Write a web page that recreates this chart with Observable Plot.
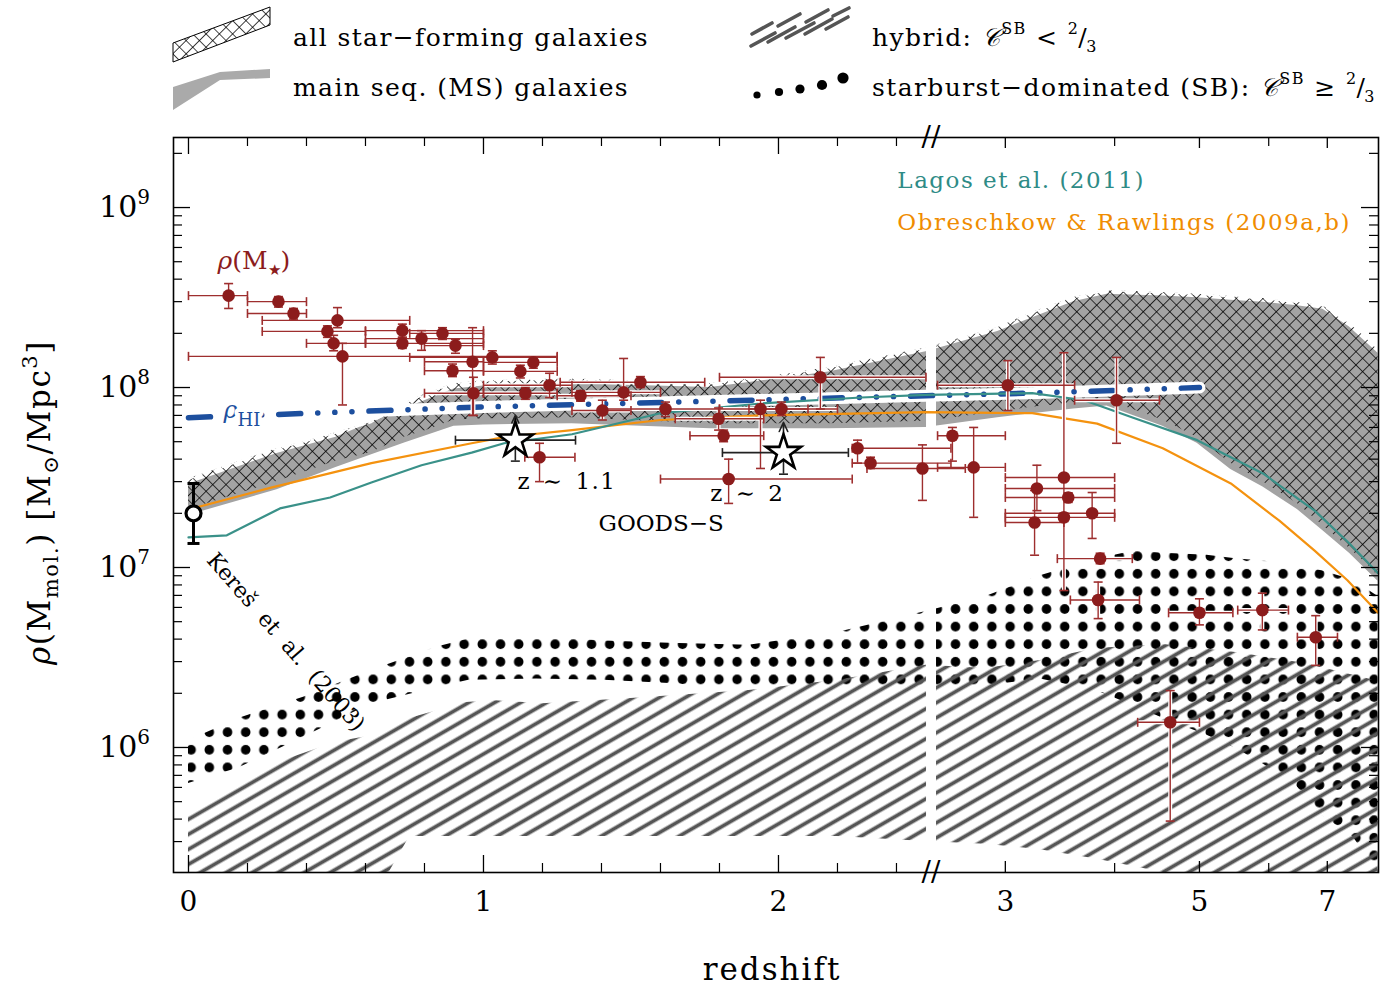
<!DOCTYPE html>
<html>
<head>
<meta charset="utf-8">
<script src="https://cdn.jsdelivr.net/npm/d3@7"></script>
<script src="https://cdn.jsdelivr.net/npm/@observablehq/plot@0.6"></script>
<style>
  body { margin: 0; background: #fff; }
  #wrap { position: relative; width: 1382px; height: 990px; font-family: "DejaVu Serif", serif; }
  #legend { position: absolute; left: 0; top: 0; }
  #chart { position: absolute; left: 0; top: 125px; }
</style>
</head>
<body>
<div id="wrap">
<svg id="legend" width="1382" height="125" font-family="DejaVu Serif, serif" font-size="25" letter-spacing="1.4">
  <defs>
    <pattern id="xhatch" patternUnits="userSpaceOnUse" width="9.4" height="9.4" patternTransform="rotate(45)">
      <path d="M0,0H9.4M0,0V9.4" stroke="#000" stroke-width="1.5" fill="none"/>
    </pattern>
    <pattern id="hatch" patternUnits="userSpaceOnUse" width="13" height="13" patternTransform="rotate(-30)">
      <line x1="0" y1="6.5" x2="13" y2="6.5" stroke="#555" stroke-width="3.8"/>
    </pattern>
    <pattern id="dots" patternUnits="userSpaceOnUse" width="18.2" height="17.6">
      <circle cx="9.1" cy="8.8" r="4.8" fill="#000"/>
    </pattern>
  </defs>
  <!-- swatches -->
  <polygon points="173,43 270,7 270,25 173,62" fill="url(#xhatch)" stroke="#000" stroke-width="1"/>
  <polygon points="173,87 220,72 270,69 270,78 220,80 173,110" fill="#aaa"/>
  <g stroke="#555" stroke-width="3.6" stroke-linecap="round">
    <line x1="751" y1="46" x2="775" y2="33"/>
    <line x1="768" y1="42" x2="795" y2="27"/>
    <line x1="752" y1="34" x2="772" y2="23"/>
    <line x1="786" y1="38" x2="814" y2="23"/>
    <line x1="778" y1="26" x2="800" y2="14"/>
    <line x1="805" y1="34" x2="832" y2="19"/>
    <line x1="806" y1="22" x2="828" y2="10"/>
    <line x1="826" y1="29" x2="848" y2="17"/>
    <line x1="833" y1="16" x2="849" y2="8"/>
  </g>
  <g fill="#000">
    <circle cx="757" cy="95" r="3.6"/>
    <circle cx="779" cy="92" r="4.1"/>
    <circle cx="800" cy="89" r="4.6"/>
    <circle cx="822" cy="85" r="5.1"/>
    <circle cx="843" cy="78" r="5.6"/>
  </g>
  <text x="293" y="46">all star−forming galaxies</text>
  <text x="293" y="96">main seq. (MS) galaxies</text>
  <text x="872" y="46">hybrid: <tspan font-style="italic">𝒞</tspan><tspan font-size="16" dy="-12">SB</tspan><tspan dy="12"> &lt; </tspan><tspan font-size="16" dy="-12">2</tspan><tspan dy="12" dx="-1">/</tspan><tspan font-size="16" dy="6" dx="-2">3</tspan></text>
  <text x="872" y="96">starburst−dominated (SB): <tspan font-style="italic">𝒞</tspan><tspan font-size="16" dy="-12">SB</tspan><tspan dy="12"> ≥ </tspan><tspan font-size="16" dy="-12">2</tspan><tspan dy="12" dx="-1">/</tspan><tspan font-size="16" dy="6" dx="-2">3</tspan></text>
</svg>
<div id="chart"></div>
</div>
<script>
// Redshift axis: linear up to the break at z = 2.5, logarithmic in z beyond it.
const Z_BREAK = 2.5, U_AT_3 = 2.769, U_PER_DEX = 2.966;
const zu = z => z <= Z_BREAK ? z : U_AT_3 + Math.log10(z / 3) * U_PER_DEX;
const U_GAP = (Z_BREAK + zu(2.5001)) / 2;

// All star-forming galaxies (cross-hatched band)
const sfZ  = [0, 0.28, 0.45, 0.5, 0.62, 0.73, 0.81, 0.9, 1.0, 1.3, 1.77, 2.05, 2.17, 2.5, 2.94, 3.2, 3.59, 3.92, 4.54, 4.97, 5.43, 5.91, 6.47, 6.92, 7.42, 7.7, 8.0];
const sfHi = [3.1e7, 4.47e7, 5.3e7, 5.6e7, 6.4e7, 8.15e7, 9.3e7, 1.05e8, 1.09e8, 1.12e8, 1.05e8, 1.2e8, 1.29e8, 1.66e8, 2.15e8, 2.58e8, 3.16e8, 3.46e8, 3.37e8, 3.3e8, 3.2e8, 3.12e8, 2.97e8, 2.85e8, 2.27e8, 1.94e8, 1.61e8];
const sfLo = [2.1e7, 2.93e7, 3.65e7, 3.9e7, 4.35e7, 5.3e7, 5.8e7, 6.6e7, 6.7e7, 6.8e7, 6.3e7, 6.3e7, 6.3e7, 6.5e7, 7.3e7, 7.74e7, 8.2e7, 8.5e7, 6.6e7, 5.3e7, 3.8e7, 3.0e7, 2.27e7, 1.71e7, 1.28e7, 1.09e7, 9.0e6];

// Main-sequence galaxies (grey band)
const msZ  = [0, 0.3, 0.5, 0.73, 0.9, 1.0, 1.3, 1.77, 2.17, 2.5, 2.94, 3.59, 3.92, 4.54, 4.97, 5.43, 5.91, 6.47, 6.92, 7.42, 8.0];
const msHi = [2.9e7, 4.3e7, 5.3e7, 7.6e7, 9.8e7, 1.02e8, 1.05e8, 1.0e8, 1.22e8, 1.58e8, 2.05e8, 3.0e8, 3.3e8, 3.22e8, 3.15e8, 3.05e8, 2.98e8, 2.85e8, 2.72e8, 2.17e8, 1.55e8];
const msLo = [1.95e7, 2.7e7, 3.6e7, 4.9e7, 6.1e7, 6.2e7, 6.3e7, 5.9e7, 5.9e7, 6.0e7, 6.8e7, 7.6e7, 7.9e7, 6.1e7, 4.9e7, 3.5e7, 2.8e7, 2.1e7, 1.6e7, 1.2e7, 8.4e6];

// Starburst-dominated (dotted band)
const sbZ  = [0, 0.17, 0.39, 0.62, 0.84, 0.95, 1.18, 1.41, 1.63, 1.9, 2.2, 2.5, 2.85, 3.29, 3.81, 4.2, 4.55, 5.1, 5.5, 6.1, 6.4, 6.9, 7.5, 8.0];
const sbHi = [1.09e6, 1.45e6, 1.9e6, 2.68e6, 3.6e6, 4.0e6, 4.1e6, 3.9e6, 3.8e6, 3.7e6, 4.35e6, 5.7e6, 6.9e6, 9.0e6, 1.11e7, 1.23e7, 1.2e7, 1.17e7, 1.12e7, 1.07e7, 1.02e7, 9.6e6, 8.5e6, 6.9e6];
const sbLo = [6.3e5, 7.7e5, 1.14e6, 1.75e6, 2.15e6, 2.36e6, 2.4e6, 2.36e6, 2.27e6, 2.1e6, 2.1e6, 2.2e6, 2.2e6, 2.4e6, 2.07e6, 1.71e6, 1.45e6, 1.17e6, 9.9e5, 7.4e5, 6.4e5, 4.2e5, 3.16e5, 2.02e5];

// Hybrid (hatched band)
const hybZ  = [0, 0.12, 0.27, 0.5, 0.63, 0.68, 0.75, 0.94, 1.04, 1.2, 1.5, 1.9, 2.2, 2.5, 2.85, 3.29, 3.81, 4.55, 5.5, 6.6, 8.0];
const hybHi = [4.3e5, 5.4e5, 7.9e5, 1.07e6, 1.17e6, 1.3e6, 1.45e6, 1.78e6, 1.82e6, 1.75e6, 1.87e6, 2.07e6, 2.36e6, 2.86e6, 2.75e6, 3.04e6, 3.55e6, 3.73e6, 3.37e6, 2.93e6, 2.33e6];
const hybLo = [2.02e5, 2.02e5, 2.02e5, 2.02e5, 2.02e5, 2.02e5, 3.2e5, 3.2e5, 3.2e5, 3.2e5, 3.2e5, 3.2e5, 3.2e5, 3.0e5, 2.9e5, 2.7e5, 2.4e5, 2.02e5, 2.02e5, 2.02e5, 2.02e5];

// Model predictions
const lagosZ = [0, 0.13, 0.31, 0.48, 0.62, 0.79, 0.96, 1.07, 1.3, 1.6, 1.94, 2.28, 2.5, 3.22, 3.69, 4.2, 4.97, 5.91, 6.77, 7.42, 8.0];
const lagosV = [1.47e7, 1.51e7, 2.13e7, 2.45e7, 2.97e7, 3.7e7, 4.35e7, 4.9e7, 5.5e7, 7.2e7, 8.15e7, 8.8e7, 9.1e7, 9.3e7, 8.5e7, 6.8e7, 5.1e7, 3.33e7, 2.07e7, 1.36e7, 9.3e6];
const obrZ = [0, 0.28, 0.62, 0.96, 1.07, 1.3, 1.6, 1.94, 2.5, 3.22, 3.82, 4.54, 5.43, 6.17, 6.77, 7.38, 8.0];
const obrV = [2.1e7, 2.78e7, 3.8e7, 4.9e7, 5.3e7, 5.8e7, 6.6e7, 7.0e7, 7.3e7, 7.2e7, 6.3e7, 4.6e7, 2.93e7, 1.82e7, 1.24e7, 8.5e6, 5.6e6];

// Atomic gas density
const hiZ = [0, 1.0, 2.5, 3.2, 5.0];
const hiV = [6.8e7, 7.8e7, 9.0e7, 9.3e7, 1.0e8];

// Stellar mass density: [z, rho, zLow, zHigh, rhoLow, rhoHigh]
const stellarMass = [
  [0.136, 3.24e8, 0.0, 0.2, 2.75e8, 3.78e8],
  [0.305, 3.0e8, 0.2, 0.4, 2.8e8, 3.2e8],
  [0.356, 2.58e8, 0.2, 0.4, 2.4e8, 2.75e8],
  [0.505, 2.36e8, 0.25, 0.75, 2.15e8, 2.78e8],
  [0.471, 2.05e8, 0.25, 0.6, 1.9e8, 2.2e8],
  [0.492, 1.76e8, 0.4, 0.6, 1.6e8, 1.95e8],
  [0.522, 1.49e8, 0.0, 1.25, 8.0e7, 1.76e8],
  [0.725, 2.07e8, 0.6, 1.0, 1.9e8, 2.25e8],
  [0.725, 1.76e8, 0.6, 1.0, 1.65e8, 1.9e8],
  [0.79, 1.87e8, 0.6, 1.0, 1.61e8, 2.07e8],
  [0.861, 2.0e8, 0.75, 1.0, 1.85e8, 2.15e8],
  [0.905, 1.71e8, 0.8, 1.0, 1.55e8, 1.85e8],
  [0.963, 1.39e8, 0.8, 1.0, 7.0e7, 2.15e8],
  [1.03, 1.47e8, 0.75, 1.25, 1.35e8, 1.6e8],
  [0.895, 1.24e8, 0.8, 1.0, 1.15e8, 1.35e8],
  [1.125, 1.23e8, 1.0, 1.25, 1.13e8, 1.33e8],
  [1.169, 1.38e8, 1.0, 1.25, 1.28e8, 1.47e8],
  [1.224, 1.03e8, 1.0, 1.3, 8.8e7, 1.2e8],
  [1.142, 9.3e7, 1.0, 1.25, 8.6e7, 1.0e8],
  [0.966, 9.3e7, 0.8, 1.0, 7.0e7, 1.14e8],
  [1.19, 4.1e7, 1.14, 1.31, 3.0e7, 4.9e7],
  [1.532, 1.07e8, 1.26, 1.75, 1.0e8, 1.15e8],
  [1.475, 9.4e7, 1.3, 1.6, 8.5e7, 1.45e8],
  [1.329, 9.0e7, 1.25, 1.5, 8.4e7, 9.6e7],
  [1.403, 7.45e7, 1.3, 1.5, 6.6e7, 8.5e7],
  [1.617, 7.6e7, 1.4, 1.8, 6.9e7, 8.3e7],
  [1.797, 6.7e7, 1.65, 1.95, 5.8e7, 7.7e7],
  [1.814, 5.4e7, 1.7, 1.95, 5.0e7, 5.8e7],
  [1.939, 7.6e7, 1.8, 2.2, 3.55e7, 8.5e7],
  [2.01, 7.6e7, 1.9, 2.1, 7.0e7, 8.3e7],
  [2.142, 1.14e8, 1.8, 2.5, 7.6e7, 1.47e8],
  [1.831, 3.1e7, 1.6, 2.25, 2.27e7, 4.0e7],
  [2.268, 4.6e7, 2.25, 2.6, 3.8e7, 5.1e7],
  [2.312, 3.8e7, 2.25, 2.6, 3.55e7, 4.1e7],
  [2.488, 3.55e7, 2.3, 2.7, 2.36e7, 4.8e7],
  [2.61, 5.4e7, 2.51, 3.0, 3.9e7, 6.0e7],
  [2.76, 3.6e7, 2.51, 3.0, 1.9e7, 6.0e7],
  [3.02, 1.03e8, 2.51, 3.6, 7.45e7, 1.41e8],
  [4.02, 8.5e7, 3.6, 4.5, 4.9e7, 1.47e8],
  [3.5, 3.16e7, 3.0, 4.0, 7.45e6, 1.56e8],
  [3.54, 2.45e7, 3.0, 4.0, 2.3e7, 2.6e7],
  [3.5, 1.9e7, 3.0, 4.0, 1.8e7, 2.0e7],
  [3.26, 2.75e7, 3.0, 4.0, 2.07e7, 3.7e7],
  [3.77, 2.0e7, 3.0, 4.0, 1.45e7, 2.61e7],
  [3.24, 1.78e7, 3.0, 3.5, 1.17e7, 2.68e7],
  [3.85, 1.12e7, 3.44, 4.19, 1.05e7, 1.2e7],
  [3.83, 6.6e6, 3.56, 4.27, 5.2e6, 8.3e6],
  [5.0, 5.6e6, 4.61, 5.46, 4.8e6, 6.7e6],
  [5.9, 5.8e6, 5.53, 6.32, 4.5e6, 7.2e6],
  [6.79, 4.1e6, 6.47, 7.19, 2.86e6, 5.4e6],
  [4.63, 1.38e6, 4.25, 5.0, 3.9e5, 2.07e6]
];

// GOODS-S lower limits: [z, rho, zLow, zHigh, rhoLow, rhoArrowTip]
const goodsS = [
  [1.108, 5.1e7, 0.905, 1.312, 3.9e7, 7.0e7],
  [2.017, 4.35e7, 1.81, 2.237, 3.3e7, 6.4e7]
];

// Local value (Keres et al. 2003): [z, rho, rhoLow, rhoHigh]
const keres = [[0.017, 2.0e7, 1.36e7, 2.93e7]];

// Axis ticks
const xMajor = [0, 1, 2];
const xMid = [3, 5, 7];
const xMinor = [0.2, 0.4, 0.6, 0.8, 1.2, 1.4, 1.6, 1.8, 2.2, 2.4, 4, 6];
const xLabels = [0, 1, 2, 3, 5, 7];
const yMajor = [1e6, 1e7, 1e8, 1e9];
const yMinor = [5, 6, 7, 8].flatMap(k => [2, 3, 4, 5, 6, 7, 8, 9].map(m => m * 10 ** k)).filter(v => v > 2.02e5 && v < 2.45e9)
  .concat([2e9]);

const band = (zs, lo, hi) => zs.map((z, i) => ({u: zu(z), lo: lo[i], hi: hi[i]}));
const curve = (zs, vs) => zs.map((z, i) => ({u: zu(z), v: vs[i]}));

const sf = band(sfZ, sfLo, sfHi);
const ms = band(msZ, msLo, msHi);
const sb = band(sbZ, sbLo, sbHi);
const hyb = band(hybZ, hybLo, hybHi);
const lagos = curve(lagosZ, lagosV);
const obr = curve(obrZ, obrV);
const rhoHI = curve(hiZ, hiV);

const pts = stellarMass.map(([z, v, zl, zh, vl, vh]) => ({u: zu(z), v, ul: zu(zl), uh: zu(zh), vl, vh}));
const stars = goodsS.map(([z, v, zl, zh, vl, vt]) => ({u: zu(z), v, ul: zu(zl), uh: zu(zh), vl, vt}));
const kr = keres.map(([z, v, vl, vh]) => ({u: zu(z), v, vl, vh}));

const yCaps = pts.flatMap(d => [{u: d.u, v: d.vl}, {u: d.u, v: d.vh}]);
const xCaps = pts.flatMap(d => [{u: d.ul, v: d.v}, {u: d.uh, v: d.v}]);

const capH = {draw(ctx, size) { const w = Math.sqrt(size / Math.PI); ctx.moveTo(-w, 0); ctx.lineTo(w, 0); }};
const capV = {draw(ctx, size) { const h = Math.sqrt(size / Math.PI); ctx.moveTo(0, -h); ctx.lineTo(0, h); }};

const RED = "#8c1c1c", RED_BAR = "#9e2e2e";
const TEAL = "#3a9189", ORANGE = "#f4920f", BLUE = "#1d4f9e";
const W = 1382, H = 865, ML = 173, MR = 4, MT = 12, MB = 118;
const PW = W - ML - MR, PH = H - MT - MB;

const plot = Plot.plot({
  width: W, height: H,
  marginTop: MT, marginBottom: MB, marginLeft: ML, marginRight: MR,
  style: {fontFamily: '"DejaVu Serif", serif', fontSize: "24px", background: "white", color: "black", overflow: "visible"},
  x: {type: "linear", domain: [-0.0508, 4.034], axis: null},
  y: {type: "log", domain: [2.02e5, 2.45e9], axis: null},
  marks: [
    // bands
    Plot.areaY(ms, {x: "u", y1: "lo", y2: "hi", fill: "#a3a3a3"}),
    Plot.areaY(sf, {x: "u", y1: "lo", y2: "hi", fill: "url(#xhatch)"}),
    Plot.line(sf, {x: "u", y: "hi", stroke: "white", strokeWidth: 1.6, strokeDasharray: "5,4"}),
    Plot.areaY(sb, {x: "u", y1: "lo", y2: "hi", fill: "url(#dots)"}),
    Plot.areaY(hyb, {x: "u", y1: "lo", y2: "hi", fill: "url(#hatch)"}),
    // axis break gap
    Plot.ruleX([U_GAP], {x: d => d, stroke: "white", strokeWidth: 10}),
    // atomic gas
    Plot.line(rhoHI, {x: "u", y: "v", stroke: "white", strokeWidth: 12}),
    Plot.line(rhoHI, {x: "u", y: "v", stroke: BLUE, strokeWidth: 5.5, strokeLinecap: "round", strokeDasharray: "22,17,0.1,17,0.1,17,0.1,17"}),
    // models
    Plot.line(obr, {x: "u", y: "v", stroke: ORANGE, strokeWidth: 2.2}),
    Plot.line(lagos, {x: "u", y: "v", stroke: TEAL, strokeWidth: 2.2}),
    // stellar mass density with error bars
    Plot.ruleY(pts, {y: "v", x1: "ul", x2: "uh", stroke: "white", strokeWidth: 4}),
    Plot.ruleX(pts, {x: "u", y1: "vl", y2: "vh", stroke: "white", strokeWidth: 4}),
    Plot.ruleY(pts, {y: "v", x1: "ul", x2: "uh", stroke: RED_BAR, strokeWidth: 1.4}),
    Plot.ruleX(pts, {x: "u", y1: "vl", y2: "vh", stroke: RED_BAR, strokeWidth: 1.4}),
    Plot.dot(yCaps, {x: "u", y: "v", symbol: capH, r: 4.5, fill: "none", stroke: RED_BAR, strokeWidth: 1.6}),
    Plot.dot(xCaps, {x: "u", y: "v", symbol: capV, r: 4.5, fill: "none", stroke: RED_BAR, strokeWidth: 1.6}),
    Plot.dot(pts, {x: "u", y: "v", r: 6.3, fill: RED}),
    // GOODS-S lower limits
    Plot.ruleY(stars, {y: "v", x1: "ul", x2: "uh", stroke: "#222", strokeWidth: 1.6}),
    Plot.dot(stars.flatMap(d => [{u: d.ul, v: d.v}, {u: d.uh, v: d.v}]), {x: "u", y: "v", symbol: capV, r: 4.5, fill: "none", stroke: "#222", strokeWidth: 1.6}),
    Plot.ruleX(stars, {x: "u", y1: "vl", y2: "v", stroke: "#222", strokeWidth: 1.6}),
    Plot.dot(stars, {x: "u", y: "vl", symbol: capH, r: 4.5, fill: "none", stroke: "#222", strokeWidth: 1.6}),
    Plot.arrow(stars, {x1: "u", y1: "v", x2: "u", y2: "vt", stroke: "#222", strokeWidth: 1.6, headLength: 12, headAngle: 50}),
    Plot.dot(stars, {x: "u", y: "v", symbol: "star", r: 11, fill: "white", stroke: "black", strokeWidth: 2.6}),
    // Keres et al. local point
    Plot.ruleX(kr, {x: "u", y1: "vl", y2: "vh", stroke: "black", strokeWidth: 3}),
    Plot.dot(kr.flatMap(d => [{u: d.u, v: d.vl}, {u: d.u, v: d.vh}]), {x: "u", y: "v", symbol: capH, r: 6, fill: "none", stroke: "black", strokeWidth: 3}),
    Plot.dot(kr, {x: "u", y: "v", r: 7.5, fill: "white", stroke: "black", strokeWidth: 3.2}),
    // annotations
    Plot.text(["Lagos et al. (2011)"], {x: () => 2.403, y: () => 1.41e9, text: d => d, textAnchor: "start", fill: "#2e8b86", fontSize: 23}),
    Plot.text(["Obreschkow & Rawlings (2009a,b)"], {x: () => 2.403, y: () => 8.26e8, text: d => d, textAnchor: "start", fill: "#f08c00", fontSize: 23}),
    Plot.text(["z ∼ 1.1"], {x: () => zu(1.115), y: () => 3.0e7, text: d => d, textAnchor: "start", fontSize: 23}),
    Plot.text(["z ∼ 2"], {x: () => zu(1.769), y: () => 2.58e7, text: d => d, textAnchor: "start", fontSize: 23}),
    Plot.text(["GOODS−S"], {x: () => zu(1.39), y: () => 1.75e7, text: d => d, textAnchor: "start", fontSize: 23}),
    Plot.text(["Kereš  et  al.  (2003)"], {x: () => zu(0.33), y: () => 3.85e6, text: d => d, rotate: 49, fontSize: 22}),
    // frame ticks
    Plot.tickX(xMajor, {x: d => zu(d), insetTop: PH - 17, stroke: "black", strokeWidth: 1.3}),
    Plot.tickX(xMajor, {x: d => zu(d), insetBottom: PH - 17, stroke: "black", strokeWidth: 1.3}),
    Plot.tickX(xMid, {x: d => zu(d), insetTop: PH - 11, stroke: "black", strokeWidth: 1.3}),
    Plot.tickX(xMid, {x: d => zu(d), insetBottom: PH - 11, stroke: "black", strokeWidth: 1.3}),
    Plot.tickX(xMinor, {x: d => zu(d), insetTop: PH - 9, stroke: "black", strokeWidth: 1.2}),
    Plot.tickX(xMinor, {x: d => zu(d), insetBottom: PH - 9, stroke: "black", strokeWidth: 1.2}),
    Plot.tickY(yMajor, {y: d => d, insetRight: PW - 17, stroke: "black", strokeWidth: 1.3}),
    Plot.tickY(yMajor, {y: d => d, insetLeft: PW - 17, stroke: "black", strokeWidth: 1.3}),
    Plot.tickY(yMinor, {y: d => d, insetRight: PW - 9, stroke: "black", strokeWidth: 1.2}),
    Plot.tickY(yMinor, {y: d => d, insetLeft: PW - 9, stroke: "black", strokeWidth: 1.2}),
    Plot.text(xLabels, {x: d => zu(d), text: d => String(d), frameAnchor: "bottom", lineAnchor: "top", dy: 19, fontSize: 28}),
    Plot.frame({stroke: "black", strokeWidth: 1.6}),
    Plot.text([U_GAP], {x: d => d, text: () => "//", frameAnchor: "top", lineAnchor: "middle", fontSize: 28}),
    Plot.text([U_GAP], {x: d => d, text: () => "//", frameAnchor: "bottom", lineAnchor: "middle", fontSize: 28})
  ]
});

document.getElementById("chart").appendChild(plot);

const svg = d3.select(plot);

// wider letter spacing for the in-plot annotations
svg.selectAll("text").filter(function () { return /^(Lagos|Obreschkow)/.test(this.textContent); }).attr("letter-spacing", 1.5);
svg.selectAll("text").filter(function () { return /^z ∼/.test(this.textContent); }).attr("letter-spacing", 1.5).attr("word-spacing", 3);

// Rich text labels (sub/superscripts) placed through the plot's own scales
const sx = plot.scale("x"), sy = plot.scale("y");
const X = d3.scaleLinear(sx.domain, sx.range);
const Y = d3.scaleLog(sy.domain, sy.range);
const g = svg.append("g").attr("font-family", '"DejaVu Serif", serif').attr("fill", "black").attr("text-anchor", "start");

// y tick labels 10^k
for (const v of yMajor) {
  const t = g.append("text").attr("x", ML - 23).attr("y", Y(v) + 10).attr("text-anchor", "end").attr("font-size", 30);
  t.append("tspan").text("10");
  t.append("tspan").attr("font-size", 20).attr("dy", -13).text(String(Math.round(Math.log10(v))));
}

// y axis title
{
  const t = g.append("text").attr("transform", `translate(50,${MT + PH / 2 - 2}) rotate(-90)`).attr("text-anchor", "middle")
    .attr("font-size", 31).attr("letter-spacing", 1.6);
  t.append("tspan").attr("font-style", "italic").text("ρ");
  t.append("tspan").text("(M");
  t.append("tspan").attr("font-size", 21).attr("dy", 8).text("mol.");
  t.append("tspan").attr("dy", -8).text(") [M");
  t.append("tspan").attr("font-size", 21).attr("dy", 8).text("⊙");
  t.append("tspan").attr("dy", -8).text("/Mpc");
  t.append("tspan").attr("font-size", 21).attr("dy", -13).text("3");
  t.append("tspan").attr("dy", 13).text("]");
}

// x axis title
g.append("text").attr("x", X(zu(1.98))).attr("y", H - 10).attr("text-anchor", "middle").attr("font-size", 31)
  .attr("letter-spacing", 2).text("redshift");

// rho(M*) label
{
  const t = g.append("text").attr("x", X(zu(0.1))).attr("y", Y(5.08e8) + 9).attr("fill", "#8c1c1c").attr("font-size", 25);
  t.append("tspan").attr("font-style", "italic").text("ρ");
  t.append("tspan").text("(M");
  t.append("tspan").attr("font-size", 15).attr("dy", 6).text("★");
  t.append("tspan").attr("dy", -6).text(")");
}

// rho_HI label
{
  const t = g.append("text").attr("x", X(zu(0.12))).attr("y", Y(7.3e7) + 6).attr("fill", BLUE).attr("font-size", 24)
    .attr("stroke", "white").attr("stroke-width", 8).attr("paint-order", "stroke").attr("stroke-linejoin", "round");
  t.append("tspan").attr("font-style", "italic").text("ρ");
  t.append("tspan").attr("font-size", 18).attr("dy", 8).text("HI ");
}
</script>
</body>
</html>
